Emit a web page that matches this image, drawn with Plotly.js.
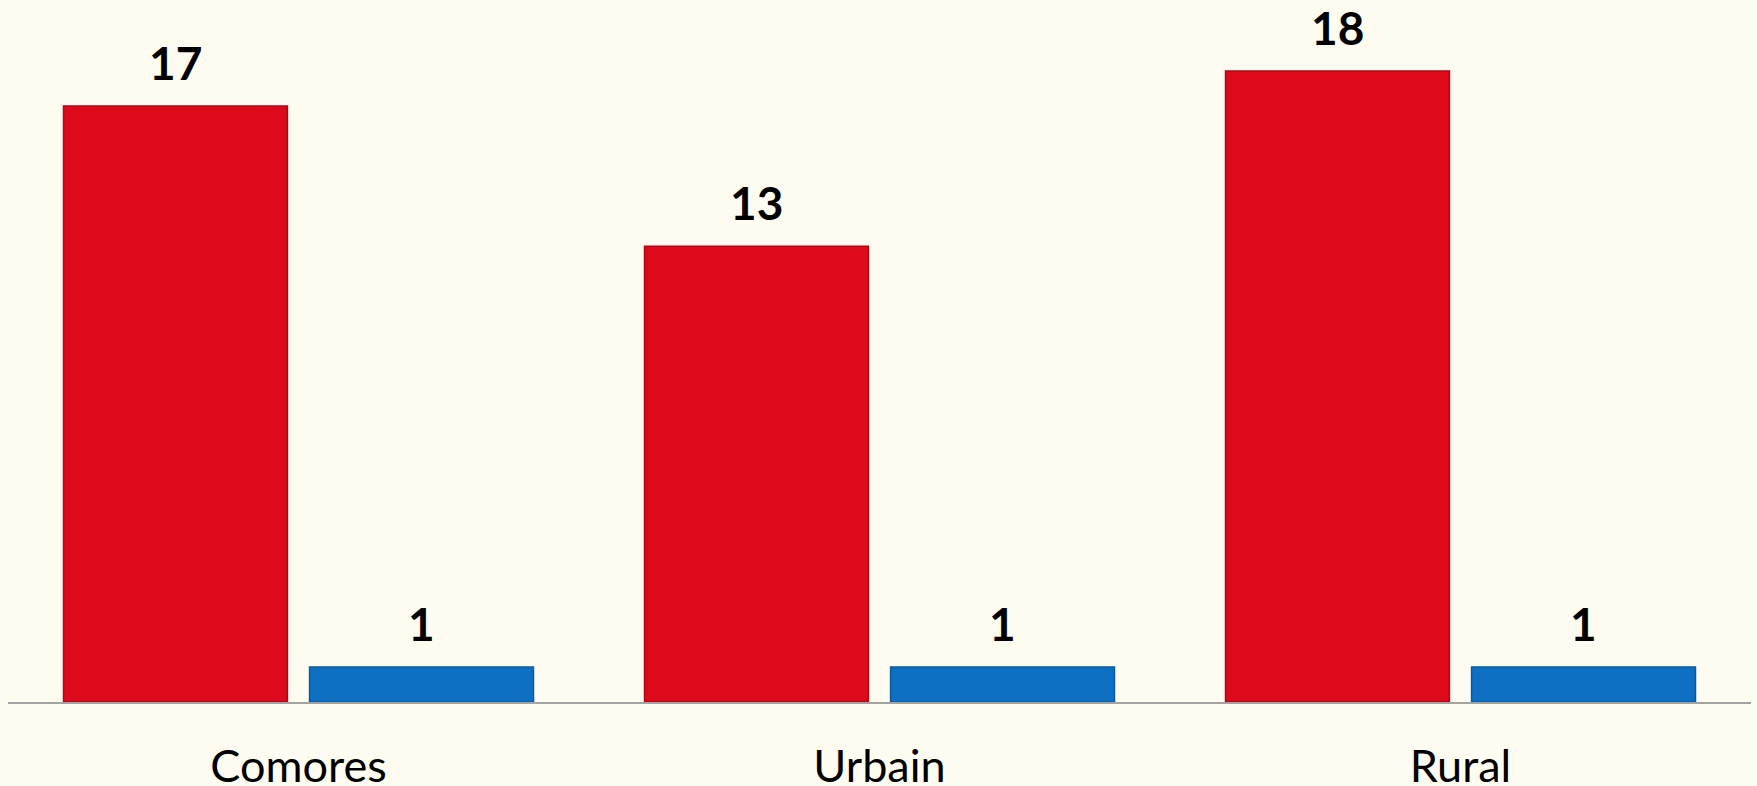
<!DOCTYPE html>
<html>
<head>
<meta charset="utf-8">
<script src="https://cdn.plot.ly/plotly-3.0.1.min.js"></script>
<style>
html,body{margin:0;padding:0;background:#FEFCF0;}
#chart{width:1757px;height:786px;}
</style>
</head>
<body>
<div id="chart"></div>
<script>
const categories = ["Comores", "Urbain", "Rural"];
const seriesRed = [17, 13, 18];
const seriesBlue = [1, 1, 1];
const redLabels = ["17", "13", "18"];
const blueLabels = ["1", "1", "1"];

const bargap = 0.153;
const bargroupgap = 0.09;
const slot = (1 - bargap) / 2;
const offset = slot / 2;

const traces = [
  {
    type: "bar", x: categories, y: seriesRed, name: "A",
    marker: {color: "#DC0A1B", line: {color: "#B00614", width: 1.5}},
    hoverinfo: "none"
  },
  {
    type: "bar", x: categories, y: seriesBlue, name: "B",
    marker: {color: "#0E70C2", line: {color: "#0A5AA0", width: 1.5}},
    hoverinfo: "none"
  }
];

const annotations = [];
categories.forEach((c, i) => {
  annotations.push({x: i - offset, y: seriesRed[i], xref: "x", yref: "y", text: "<b>" + redLabels[i] + "</b>",
    showarrow: false, yanchor: "bottom", yshift: 14, font: {family: "Lato, Carlito, sans-serif", size: 46, color: "#000"}});
  annotations.push({x: i + offset, y: seriesBlue[i], xref: "x", yref: "y", text: "<b>" + blueLabels[i] + "</b>",
    showarrow: false, yanchor: "bottom", yshift: 14, font: {family: "Lato, Carlito, sans-serif", size: 46, color: "#000"}});
});

const layout = {
  width: 1757, height: 786,
  paper_bgcolor: "#FEFCF0", plot_bgcolor: "#FEFCF0",
  margin: {l: 8, r: 6, t: 10, b: 84},
  barmode: "group", bargap: bargap, bargroupgap: bargroupgap,
  showlegend: false,
  xaxis: {
    type: "category", range: [-0.5, 2.5],
    showline: true, linecolor: "#A3A3A3", linewidth: 2,
    ticks: "", showgrid: false, zeroline: false,
    tickfont: {family: "Lato, Carlito, sans-serif", size: 45, color: "#000"},
    ticklabelstandoff: 24, fixedrange: true
  },
  yaxis: {
    range: [0, 19.74], visible: false, showgrid: false, zeroline: false, fixedrange: true
  },
  annotations: annotations
};

Plotly.newPlot("chart", traces, layout, {displayModeBar: false, staticPlot: true});
</script>
</body>
</html>
